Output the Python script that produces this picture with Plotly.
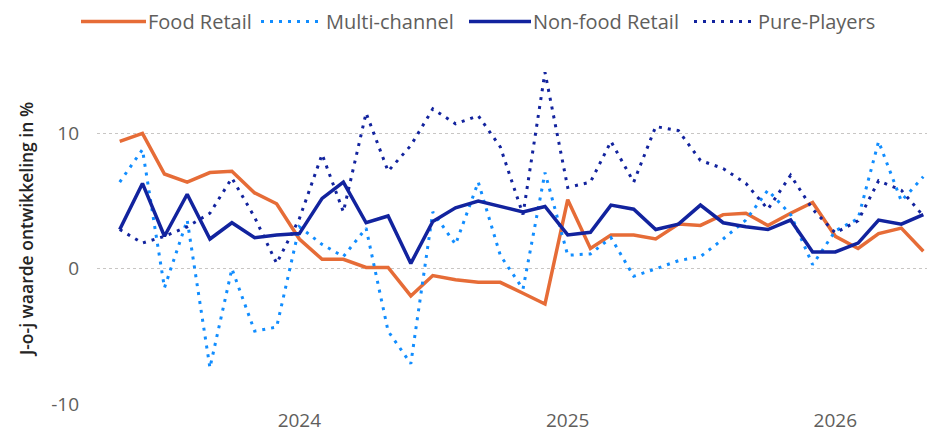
import pandas as pd
import plotly.graph_objects as go

months = pd.date_range("2023-05-01", periods=37, freq="MS")

food_retail = [9.4, 10.0, 7.0, 6.4, 7.1, 7.2, 5.6, 4.8, 2.2, 0.7, 0.7, 0.1, 0.1,
               -2.0, -0.5, -0.8, -1.0, -1.0, -1.8, -2.6, 5.1, 1.5, 2.5, 2.5, 2.2,
               3.3, 3.2, 4.0, 4.1, 3.2, 4.1, 4.9, 2.4, 1.5, 2.6, 3.0, 1.3]
multi_channel = [6.4, 8.8, -1.4, 3.6, -7.3, 0.0, -4.6, -4.3, 3.1, 1.8, 0.9, 3.0, -4.6,
                 -7.0, 4.2, 1.8, 6.4, 1.0, -1.5, 7.1, 1.0, 1.1, 2.3, -0.55, 0.0,
                 0.6, 0.9, 2.2, 3.6, 5.8, 4.0, 0.3, 2.8, 3.7, 9.4, 5.0, 6.8]
non_food_retail = [2.9, 6.3, 2.4, 5.5, 2.2, 3.4, 2.3, 2.5, 2.6, 5.2, 6.4, 3.4, 3.9,
                   0.4, 3.5, 4.5, 5.0, 4.6, 4.2, 4.6, 2.5, 2.7, 4.7, 4.4, 2.9,
                   3.3, 4.7, 3.4, 3.1, 2.9, 3.6, 1.25, 1.25, 1.9, 3.6, 3.3, 4.0]
pure_players = [2.9, 1.9, 2.4, 3.1, 4.1, 6.7, 3.8, 0.4, 3.7, 8.45, 4.2, 11.5, 7.2,
                9.1, 11.8, 10.7, 11.3, 9.0, 4.0, 14.5, 6.0, 6.4, 9.4, 6.4, 10.5,
                10.2, 8.0, 7.4, 6.3, 4.4, 6.9, 4.4, 2.65, 3.55, 6.5, 5.8, 3.9]

y_ticks = [-10, 0, 10]
y_tick_labels = ["-10", "0", "10"]

series = [
    ("Food Retail", food_retail, "#E66C37", "solid", 3.5),
    ("Multi-channel", multi_channel, "#118DFF", "3px,6px", 3),
    ("Non-food Retail", non_food_retail, "#12239E", "solid", 3.5),
    ("Pure-Players", pure_players, "#12239E", "3px,6px", 3),
]

W, H = 927, 437
ML, MR, MT, MB = 97, 0, 52, 31.5
PW, PH = W - ML - MR, H - MT - MB

def px_x(p):
    return (p - ML) / PW

def px_y(p):
    return 1 + (MT - p) / PH

FONT = "Segoe UI, Open Sans, sans-serif"
fig = go.Figure()
for name, vals, color, dash, w in series:
    fig.add_trace(go.Scatter(x=months, y=vals, mode="lines", name=name,
                             line=dict(color=color, width=w, dash=dash)))

# legend drawn as layout decorations (long line samples like the reference)
legend_pos = [(81, 146), (261, 324), (469, 531), (694, 756)]
legend_y = 21.5
for (name, vals, color, dash, w), (x0, x1) in zip(series, legend_pos):
    fig.add_shape(type="line", xref="paper", yref="paper",
                  x0=px_x(x0), x1=px_x(x1), y0=px_y(legend_y), y1=px_y(legend_y),
                  line=dict(color=color, width=w, dash=dash))
    fig.add_annotation(xref="paper", yref="paper", x=px_x(x1 + 1), y=px_y(legend_y),
                       xanchor="left", yanchor="middle", showarrow=False, text=name,
                       borderpad=0,
                       font=dict(size=20, color="#605E5C", family=FONT))

fig.update_layout(
    width=W, height=H,
    margin=dict(l=ML, r=MR, t=MT, b=MB, autoexpand=False),
    paper_bgcolor="white", plot_bgcolor="white",
    font=dict(family=FONT, color="#605E5C"),
    showlegend=False,
)
fig.update_xaxes(
    type="date", range=["2023-03-31", "2026-05-06"], automargin=False,
    tick0="2024-01-01", dtick="M12", tickformat="%Y",
    showgrid=False, zeroline=False, showline=False, ticks="",
    tickfont=dict(size=19, color="#605E5C"), ticklabelstandoff=2,
)
fig.update_yaxes(
    range=[-10.05, 16], tickvals=y_ticks, ticktext=y_tick_labels, automargin=False,
    showgrid=True, gridcolor="#C8C6C4", griddash="dot", gridwidth=1,
    zeroline=False, showline=False, ticks="",
    tickfont=dict(size=19, color="#605E5C"), ticklabelstandoff=17,
    title=dict(text="J-o-j waarde ontwikkeling in %", standoff=13,
               font=dict(size=17.5, color="#252423", family=FONT, weight=600)),
)
fig.write_html("out.html", config={"displayModeBar": False},
               post_script="document.body.style.margin='0px';document.body.style.overflow='hidden';")
